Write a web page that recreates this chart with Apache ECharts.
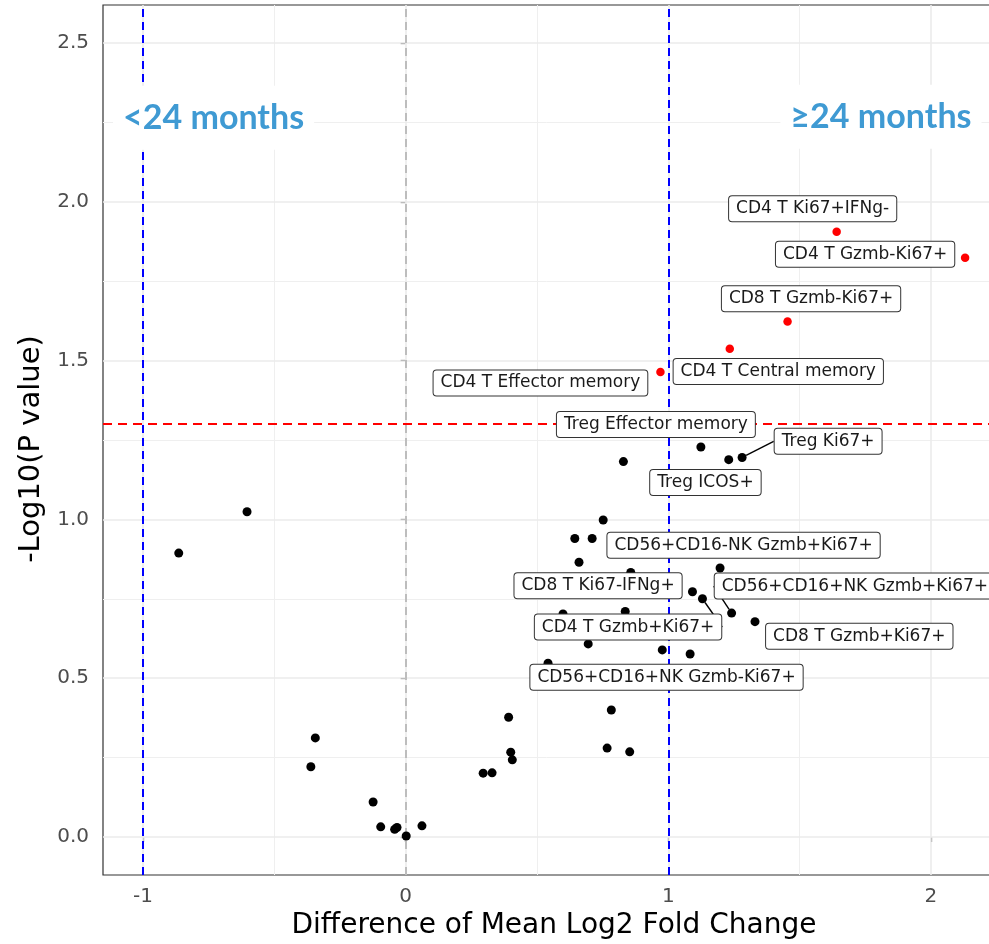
<!DOCTYPE html>
<html>
<head>
<meta charset="utf-8">
<script src="https://cdn.jsdelivr.net/npm/echarts@6/dist/echarts.min.js"></script>
<style>
  html, body { margin: 0; padding: 0; background: #ffffff; }
  #chart { width: 989px; height: 944px; }
</style>
</head>
<body>
<div id="chart"></div>
<script>
// Immune cell populations: difference of mean log2 fold change (>=24 vs <24 months)
// against -log10 of the p value. Unnamed entries are drawn but not labelled.
const cellNames = [
  'CD4 T Ki67+IFNg-', 'CD4 T Gzmb-Ki67+', 'CD8 T Gzmb-Ki67+', 'CD4 T Central memory', 'CD4 T Effector memory',
  'Treg Effector memory', 'Treg ICOS+', 'Treg Ki67+', null, null,
  null, null, null, 'CD8 T Ki67-IFNg+', 'CD56+CD16-NK Gzmb+Ki67+',
  null, 'CD4 T Gzmb+Ki67+', 'CD56+CD16+NK Gzmb+Ki67+', null, null,
  null, null, 'CD56+CD16+NK Gzmb-Ki67+', 'CD8 T Gzmb+Ki67+', null,
  null, null, null, null, null,
  null, null, null, null, null,
  null, null, null, null, null,
  null, null, null
];
const diffLog2FC = [
  1.641, 2.130, 1.454, 1.234, 0.970,
  1.124, 1.230, 1.281, 0.829, 0.752,
  0.644, 0.710, 0.660, 0.857, 1.197,
  1.092, 1.130, 1.241, 0.836, 0.599,
  0.695, 0.977, 1.083, 1.330, 0.542,
  0.783, 0.392, 0.400, 0.406, 0.767,
  0.853, -0.344, -0.361, -0.124, -0.095,
  -0.042, -0.033, 0.002, 0.062, 0.295,
  0.329, -0.604, -0.864
];
const negLog10P = [
  1.906, 1.824, 1.623, 1.537, 1.464,
  1.228, 1.188, 1.195, 1.182, 0.998,
  0.940, 0.940, 0.865, 0.833, 0.847,
  0.772, 0.750, 0.705, 0.710, 0.702,
  0.608, 0.589, 0.576, 0.678, 0.547,
  0.400, 0.377, 0.267, 0.243, 0.280,
  0.268, 0.312, 0.221, 0.110, 0.032,
  0.024, 0.030, 0.003, 0.035, 0.201,
  0.202, 1.024, 0.894
];

// Axis ticks and reference values
const xTicks = [-1, 0, 1, 2];
const yTicks = [0, 0.5, 1, 1.5, 2, 2.5];
const xMinorGrid = [-0.5, 0.5, 1.5];
const yMinorGrid = [0.25, 0.75, 1.25, 1.75, 2.25];
const foldChangeCutoffs = [-1, 1];
const pValueCutoff = 0.05;
const groupNames = ['<24 months', '\u226524 months'];

// ---- layout ----
const xRange = [-1.1524, 2.2819];
const yRange = [-0.1197, 2.6197];
const groupNameCoords = [[-0.7314, 2.2646], [1.8095, 2.2677]];
// label box offsets from their point, in pixels
const labelOffsets = {
  'CD4 T Ki67+IFNg-': [-24, -23],
  'CD4 T Gzmb-Ki67+': [-100, -3.5],
  'CD8 T Gzmb-Ki67+': [23.5, -22.7],
  'CD4 T Central memory': [48.5, 22.7],
  'CD4 T Effector memory': [-120, 11],
  'Treg Effector memory': [-45, -22.5],
  'Treg Ki67+': [86, -16.2],
  'Treg ICOS+': [-23.3, 22.8],
  'CD56+CD16-NK Gzmb+Ki67+': [23.5, -22.7],
  'CD8 T Ki67-IFNg+': [-32.7, 13.3],
  'CD56+CD16+NK Gzmb+Ki67+': [123.3, -27],
  'CD4 T Gzmb+Ki67+': [-74.4, 28.3],
  'CD8 T Gzmb+Ki67+': [104.3, 14.6],
  'CD56+CD16+NK Gzmb-Ki67+': [-23.6, 23.3]
};
const leaderLines = ['Treg Ki67+', 'CD4 T Gzmb+Ki67+', 'CD56+CD16+NK Gzmb+Ki67+'];

const pThreshold = -Math.log10(pValueCutoff);

const points = diffLog2FC.map((x, i) => {
  const name = cellNames[i];
  const significant = negLog10P[i] > pThreshold;
  return {
    value: [x, negLog10P[i]],
    name: name || '',
    symbolSize: significant ? 8.5 : 9,
    itemStyle: { color: significant ? '#ff0000' : '#000000', opacity: 1 },
    label: { show: !!name },
    labelLine: { show: leaderLines.includes(name) }
  };
});

const gridLine = (w, c) => ({ color: c, width: w, type: 'solid' });
const gridMarks = [
  ...xMinorGrid.map(v => ({ xAxis: v, lineStyle: gridLine(1, '#efefef') })),
  ...yMinorGrid.map(v => ({ yAxis: v, lineStyle: gridLine(1, '#efefef') })),
  ...xTicks.map(v => ({ xAxis: v, lineStyle: gridLine(1.6, '#ebebeb') })),
  ...yTicks.map(v => ({ yAxis: v, lineStyle: gridLine(1.6, '#ebebeb') }))
];

const refMarks = [
  { xAxis: 0, lineStyle: { color: '#bdbdbd', width: 2, type: [8, 5] } },
  ...foldChangeCutoffs.map(v => ({ xAxis: v, lineStyle: { color: '#0000ff', width: 2, type: [8, 5] } })),
  { yAxis: pThreshold, lineStyle: { color: '#ff0000', width: 2, type: [9, 6] } }
];

const axisTextColor = '#4d4d4d';
const font = 'DejaVu Sans';

const chart = echarts.init(document.getElementById('chart'), null, { renderer: 'canvas' });
chart.setOption({
  backgroundColor: '#ffffff',
  animation: false,
  grid: {
    left: 103, top: 5, width: 902, bottom: 69,
    show: true, borderColor: '#333333', borderWidth: 1.2, backgroundColor: '#ffffff',
    outerBoundsMode: 'none'
  },
  xAxis: {
    type: 'value', min: xRange[0], max: xRange[1],
    name: 'Difference of Mean Log2 Fold Change',
    nameLocation: 'middle', nameGap: 37,
    nameTextStyle: { fontFamily: font, fontSize: 28, color: '#000000' },
    axisLine: { show: false },
    splitLine: { show: false },
    axisTick: { show: true, customValues: xTicks, length: 5, lineStyle: { color: '#333333', width: 1.2 } },
    axisLabel: {
      customValues: xTicks, color: axisTextColor, fontFamily: font, fontSize: 20, margin: 12,
      formatter: v => String(v)
    }
  },
  yAxis: {
    type: 'value', min: yRange[0], max: yRange[1],
    name: '-Log10(P value)',
    nameLocation: 'middle', nameGap: 55, nameRotate: 90,
    nameTextStyle: { fontFamily: font, fontSize: 29, color: '#000000', padding: [0, 18, 0, 0] },
    axisLine: { show: false },
    splitLine: { show: false },
    axisTick: { show: true, customValues: yTicks, length: 5, lineStyle: { color: '#333333', width: 1.2 } },
    axisLabel: {
      customValues: yTicks, color: axisTextColor, fontFamily: font, fontSize: 20, margin: 14,
      formatter: v => v.toFixed(1)
    }
  },
  series: [
    {
      name: 'grid', type: 'scatter', data: [], z: 1, silent: true,
      markLine: { z: 1, silent: true, symbol: 'none', label: { show: false }, animation: false, data: gridMarks }
    },
    {
      name: 'cutoffs', type: 'scatter', data: [], z: 2, silent: true,
      markLine: { z: 2, silent: true, symbol: 'none', label: { show: false }, animation: false, data: refMarks },
      markPoint: {
        z: 3, silent: true, symbol: 'rect', symbolSize: 1,
        itemStyle: { color: 'rgba(0,0,0,0)' },
        label: {
          show: true, position: 'inside',
          formatter: p => p.name,
          fontFamily: 'Lato', fontWeight: 'bold', fontSize: 34, color: '#3f9ad3',
          backgroundColor: '#ffffff', padding: [16, 10, 14, 10]
        },
        data: groupNames.map((n, i) => ({ name: n, coord: groupNameCoords[i] }))
      }
    },
    {
      name: 'cells', type: 'scatter', z: 10,
      symbol: 'circle',
      data: points,
      itemStyle: { opacity: 1 },
      label: {
        position: 'inside',
        formatter: p => p.name,
        fontFamily: font, fontSize: 17, color: '#1a1a1a', opacity: 1,
        backgroundColor: '#ffffff', borderColor: '#333333', borderWidth: 1, borderRadius: 3,
        padding: [4, 7, 4, 7]
      },
      labelLine: { show: false, lineStyle: { color: '#000000', width: 1.4, opacity: 1 } },
      labelLayout: p => {
        const off = labelOffsets[cellNames[p.dataIndex]];
        return off ? { dx: off[0], dy: off[1] } : {};
      },
      emphasis: { disabled: true }
    }
  ]
});
</script>
</body>
</html>
